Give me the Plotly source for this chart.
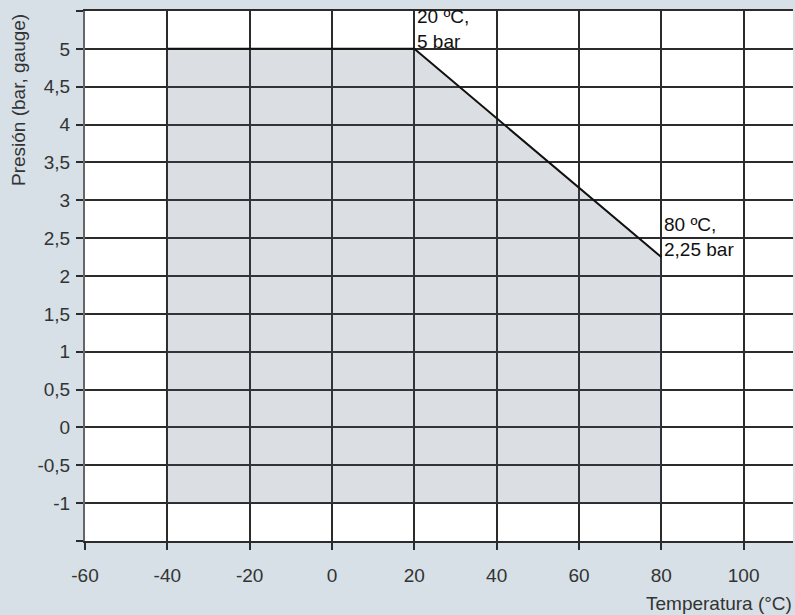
import plotly.graph_objects as go

# Operating limits: temperature (°C) vs. maximum gauge pressure (bar)
temp_c = [-40, 20, 80]
pressure_bar = [5, 5, 2.25]
pressure_floor = -1          # lower edge of the permitted region

x_ticks = [-60, -40, -20, 0, 20, 40, 60, 80, 100]
y_ticks = [-1.5, -1, -0.5, 0, 0.5, 1, 1.5, 2, 2.5, 3, 3.5, 4, 4.5, 5, 5.5]
labelled_points = [1, 2]     # indices of points carrying a text label


def es_num(v):
    s = f"{v:g}"
    return s.replace(".", ",")


y_ticktext = ["" if v in (-1.5, 5.5) else es_num(v) for v in y_ticks]

FONT = "Liberation Sans, Arial, sans-serif"
TXT = "#333333"
GRID = "#2b2b2b"
FS = 19

# Closed outline of the permitted region
fill_x = [temp_c[0]] + temp_c + [temp_c[-1], temp_c[0]]
fill_y = [pressure_floor] + pressure_bar + [pressure_floor, pressure_floor]

fig = go.Figure()
fig.add_trace(go.Scatter(
    x=fill_x, y=fill_y, mode="lines", fill="toself",
    fillcolor="rgba(75,95,115,0.2)", line=dict(width=0),
    hoverinfo="skip", showlegend=False,
))
fig.add_trace(go.Scatter(
    x=temp_c, y=pressure_bar, mode="lines",
    line=dict(color="#111111", width=2), showlegend=False,
))

# Point labels next to each labelled corner
for i in labelled_points:
    fig.add_annotation(
        x=temp_c[i], y=pressure_bar[i], xref="x", yref="y",
        text=f"{temp_c[i]} ºC,<br>{es_num(pressure_bar[i])} bar",
        showarrow=False, xanchor="left", yanchor="bottom", align="left",
        xshift=1, yshift=-5,
        font=dict(family=FONT, size=19, color="#111111"),
    )

fig.add_annotation(
    text="Temperatura (°C)", xref="paper", yref="paper", x=1, y=0,
    xanchor="right", yanchor="middle", xshift=1, yshift=-62,
    showarrow=False, font=dict(family=FONT, size=FS, color=TXT),
)
fig.add_annotation(
    text="Presión (bar, gauge)", xref="paper", yref="paper", x=0, y=1,
    xanchor="center", yanchor="top", xshift=-67, yshift=-1,
    textangle=-90, showarrow=False,
    font=dict(family=FONT, size=FS, color=TXT),
)

fig.update_layout(
    width=795, height=615,
    margin=dict(l=85, r=2, t=11, b=74),
    paper_bgcolor="#d6e0e6", plot_bgcolor="#ffffff",
    font=dict(family=FONT, size=FS, color=TXT),
)
fig.update_xaxes(
    range=[-60, 112], tickvals=x_ticks, ticktext=[str(v) for v in x_ticks],
    showgrid=True, gridcolor=GRID, gridwidth=1.5,
    showline=True, linecolor=GRID, linewidth=1.5, mirror=True,
    ticks="outside", ticklen=7, tickcolor=GRID, tickwidth=1.5,
    ticklabelstandoff=9, zeroline=False, tickfont=dict(size=FS),
)
fig.update_yaxes(
    range=[-1.5, 5.5], tickvals=y_ticks, ticktext=y_ticktext,
    showgrid=True, gridcolor=GRID, gridwidth=1.5,
    showline=True, linecolor="#666666", linewidth=2, mirror=False,
    ticks="outside", ticklen=7, tickcolor=GRID, tickwidth=1.5,
    ticklabelstandoff=2, zeroline=False, tickfont=dict(size=FS),
)

fig.write_html("out.html")
